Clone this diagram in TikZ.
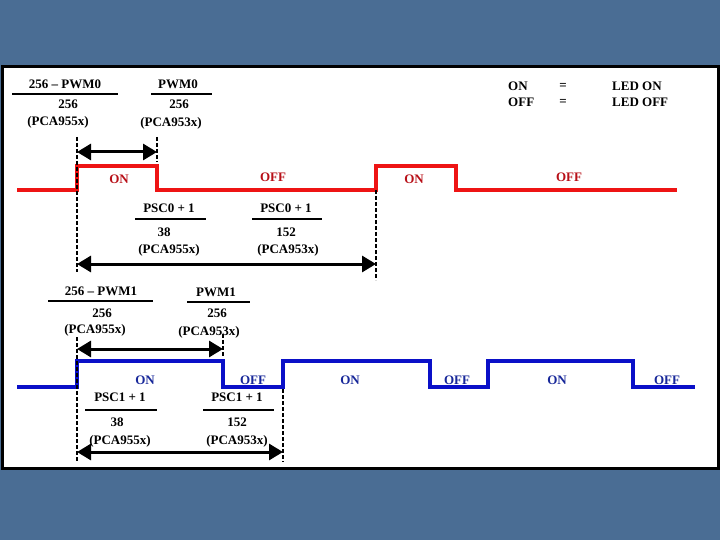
\documentclass[tikz,border=0pt]{standalone}
\usepackage{fontspec}
\setmainfont{Liberation Serif}
\usetikzlibrary{arrows.meta,positioning}
\definecolor{slate}{HTML}{4A6D94}
\definecolor{sigred}{HTML}{EE1414}
\definecolor{txtred}{HTML}{B81018}
\definecolor{sigblue}{HTML}{0A10C8}
\definecolor{txtblue}{HTML}{18289A}

\begin{document}
\begin{tikzpicture}[x=1pt,y=-1pt,every node/.style={font=\fontsize{13}{15}\selectfont\bfseries,inner sep=0pt},redsig/.style={draw=sigred,line width=4pt},bluesig/.style={draw=sigblue,line width=4pt},redlbl/.style={text=txtred},bluelbl/.style={text=txtblue},bar/.style={draw=black,line width=2pt},guide/.style={draw=black,line width=1.3pt,dash pattern=on 4pt off 2pt},dim/.style={{Triangle[length=14pt,width=16pt]}-{Triangle[length=14pt,width=16pt]},line width=3pt}]
\fill[slate] (0,0) rectangle (720,540);
\draw[fill=white,line width=3pt] (2,67) rectangle (718,468);
% legend
\node[anchor=west] (lgon) at (508,86) {ON};
\node (lgeqa) at (563,86) {=};
\node[anchor=west] (lgledon) at (612,86) {LED ON};
\node[anchor=west] (lgoff) at (508,102) {OFF};
\node (lgeqb) at (563,102) {=};
\node[anchor=west] (lgledoff) at (612,102) {LED OFF};
% PWM0 / PSC0
\node (pwmAn) at (65,84) {256 – PWM0};
\draw[bar] (12,94) -- (118,94);
\node (pwmAd) at (68,104) {256};
\node (pwmAc) at (58,122) {(PCA955x)};
\node (pwmBn) at (178,84) {PWM0};
\draw[bar] (151,94) -- (212,94);
\node (pwmBd) at (179,104) {256};
\node (pwmBc) at (171,123) {(PCA953x)};
\draw[redsig] (17,190) -| (77,166) -| (157,190) -| (376,166) -| (456,190) -- (677,190);
\node[redlbl] (ronA) at (119,179) {ON};
\node[redlbl] (roffA) at (273,177) {OFF};
\node[redlbl] (ronB) at (414,179) {ON};
\node[redlbl] (roffB) at (569,177) {OFF};
\coordinate (gA1) at (77,137);
\coordinate (gA2) at (77,272);
\coordinate (gB1) at (157,137);
\coordinate (gB2) at (157,162);
\coordinate (gC1) at (376,190);
\coordinate (gC2) at (376,280);
\draw[guide] (gA1) -- (gA2);
\draw[guide] (gB1) -- (gB2);
\draw[guide] (gC1) -- (gC2);
\coordinate (dA1) at (77,152);
\coordinate (dA2) at (157,152);
\draw[dim] (dA1) -- (dA2);
\node (pscAn) at (169,208) {PSC0 + 1};
\draw[bar] (135,219) -- (206,219);
\node (pscAd) at (164,232) {38};
\node (pscAc) at (169,250) {(PCA955x)};
\node (pscBn) at (286,208) {PSC0 + 1};
\draw[bar] (252,219) -- (322,219);
\node (pscBd) at (286,232) {152};
\node (pscBc) at (288,250) {(PCA953x)};
\coordinate (dB1) at (77,264);
\coordinate (dB2) at (376,264);
\draw[dim] (dB1) -- (dB2);
% PWM1 / PSC1
\node (pwmCn) at (101,291) {256 – PWM1};
\draw[bar] (48,301) -- (153,301);
\node (pwmCd) at (102,313) {256};
\node (pwmCc) at (95,330) {(PCA955x)};
\node (pwmDn) at (216,292) {PWM1};
\draw[bar] (187,302) -- (250,302);
\node (pwmDd) at (217,313) {256};
\node (pwmDc) at (209,332) {(PCA953x)};
\draw[bluesig] (17,387) -| (77,361) -| (223,387) -| (283,361) -| (430,387) -| (488,361) -| (633,387) -- (695,387);
\node[bluelbl] (bonA) at (145,380) {ON};
\node[bluelbl] (boffA) at (253,380) {OFF};
\node[bluelbl] (bonB) at (350,380) {ON};
\node[bluelbl] (boffB) at (457,380) {OFF};
\node[bluelbl] (bonC) at (557,380) {ON};
\node[bluelbl] (boffC) at (667,380) {OFF};
\coordinate (gD1) at (77,337);
\coordinate (gD2) at (77,462);
\coordinate (gE1) at (223,334);
\coordinate (gE2) at (223,356);
\coordinate (gF1) at (283,389);
\coordinate (gF2) at (283,462);
\draw[guide] (gD1) -- (gD2);
\draw[guide] (gE1) -- (gE2);
\draw[guide] (gF1) -- (gF2);
\coordinate (dC1) at (77,349);
\coordinate (dC2) at (223,349);
\draw[dim] (dC1) -- (dC2);
\node (pscCn) at (120,397) {PSC1 + 1};
\draw[bar] (85,410) -- (157,410);
\node (pscCd) at (117,422) {38};
\node (pscCc) at (120,441) {(PCA955x)};
\node (pscDn) at (237,397) {PSC1 + 1};
\draw[bar] (203,410) -- (274,410);
\node (pscDd) at (237,422) {152};
\node (pscDc) at (237,441) {(PCA953x)};
\coordinate (dD1) at (77,452);
\coordinate (dD2) at (283,452);
\draw[dim] (dD1) -- (dD2);
\end{tikzpicture}
\end{document}
